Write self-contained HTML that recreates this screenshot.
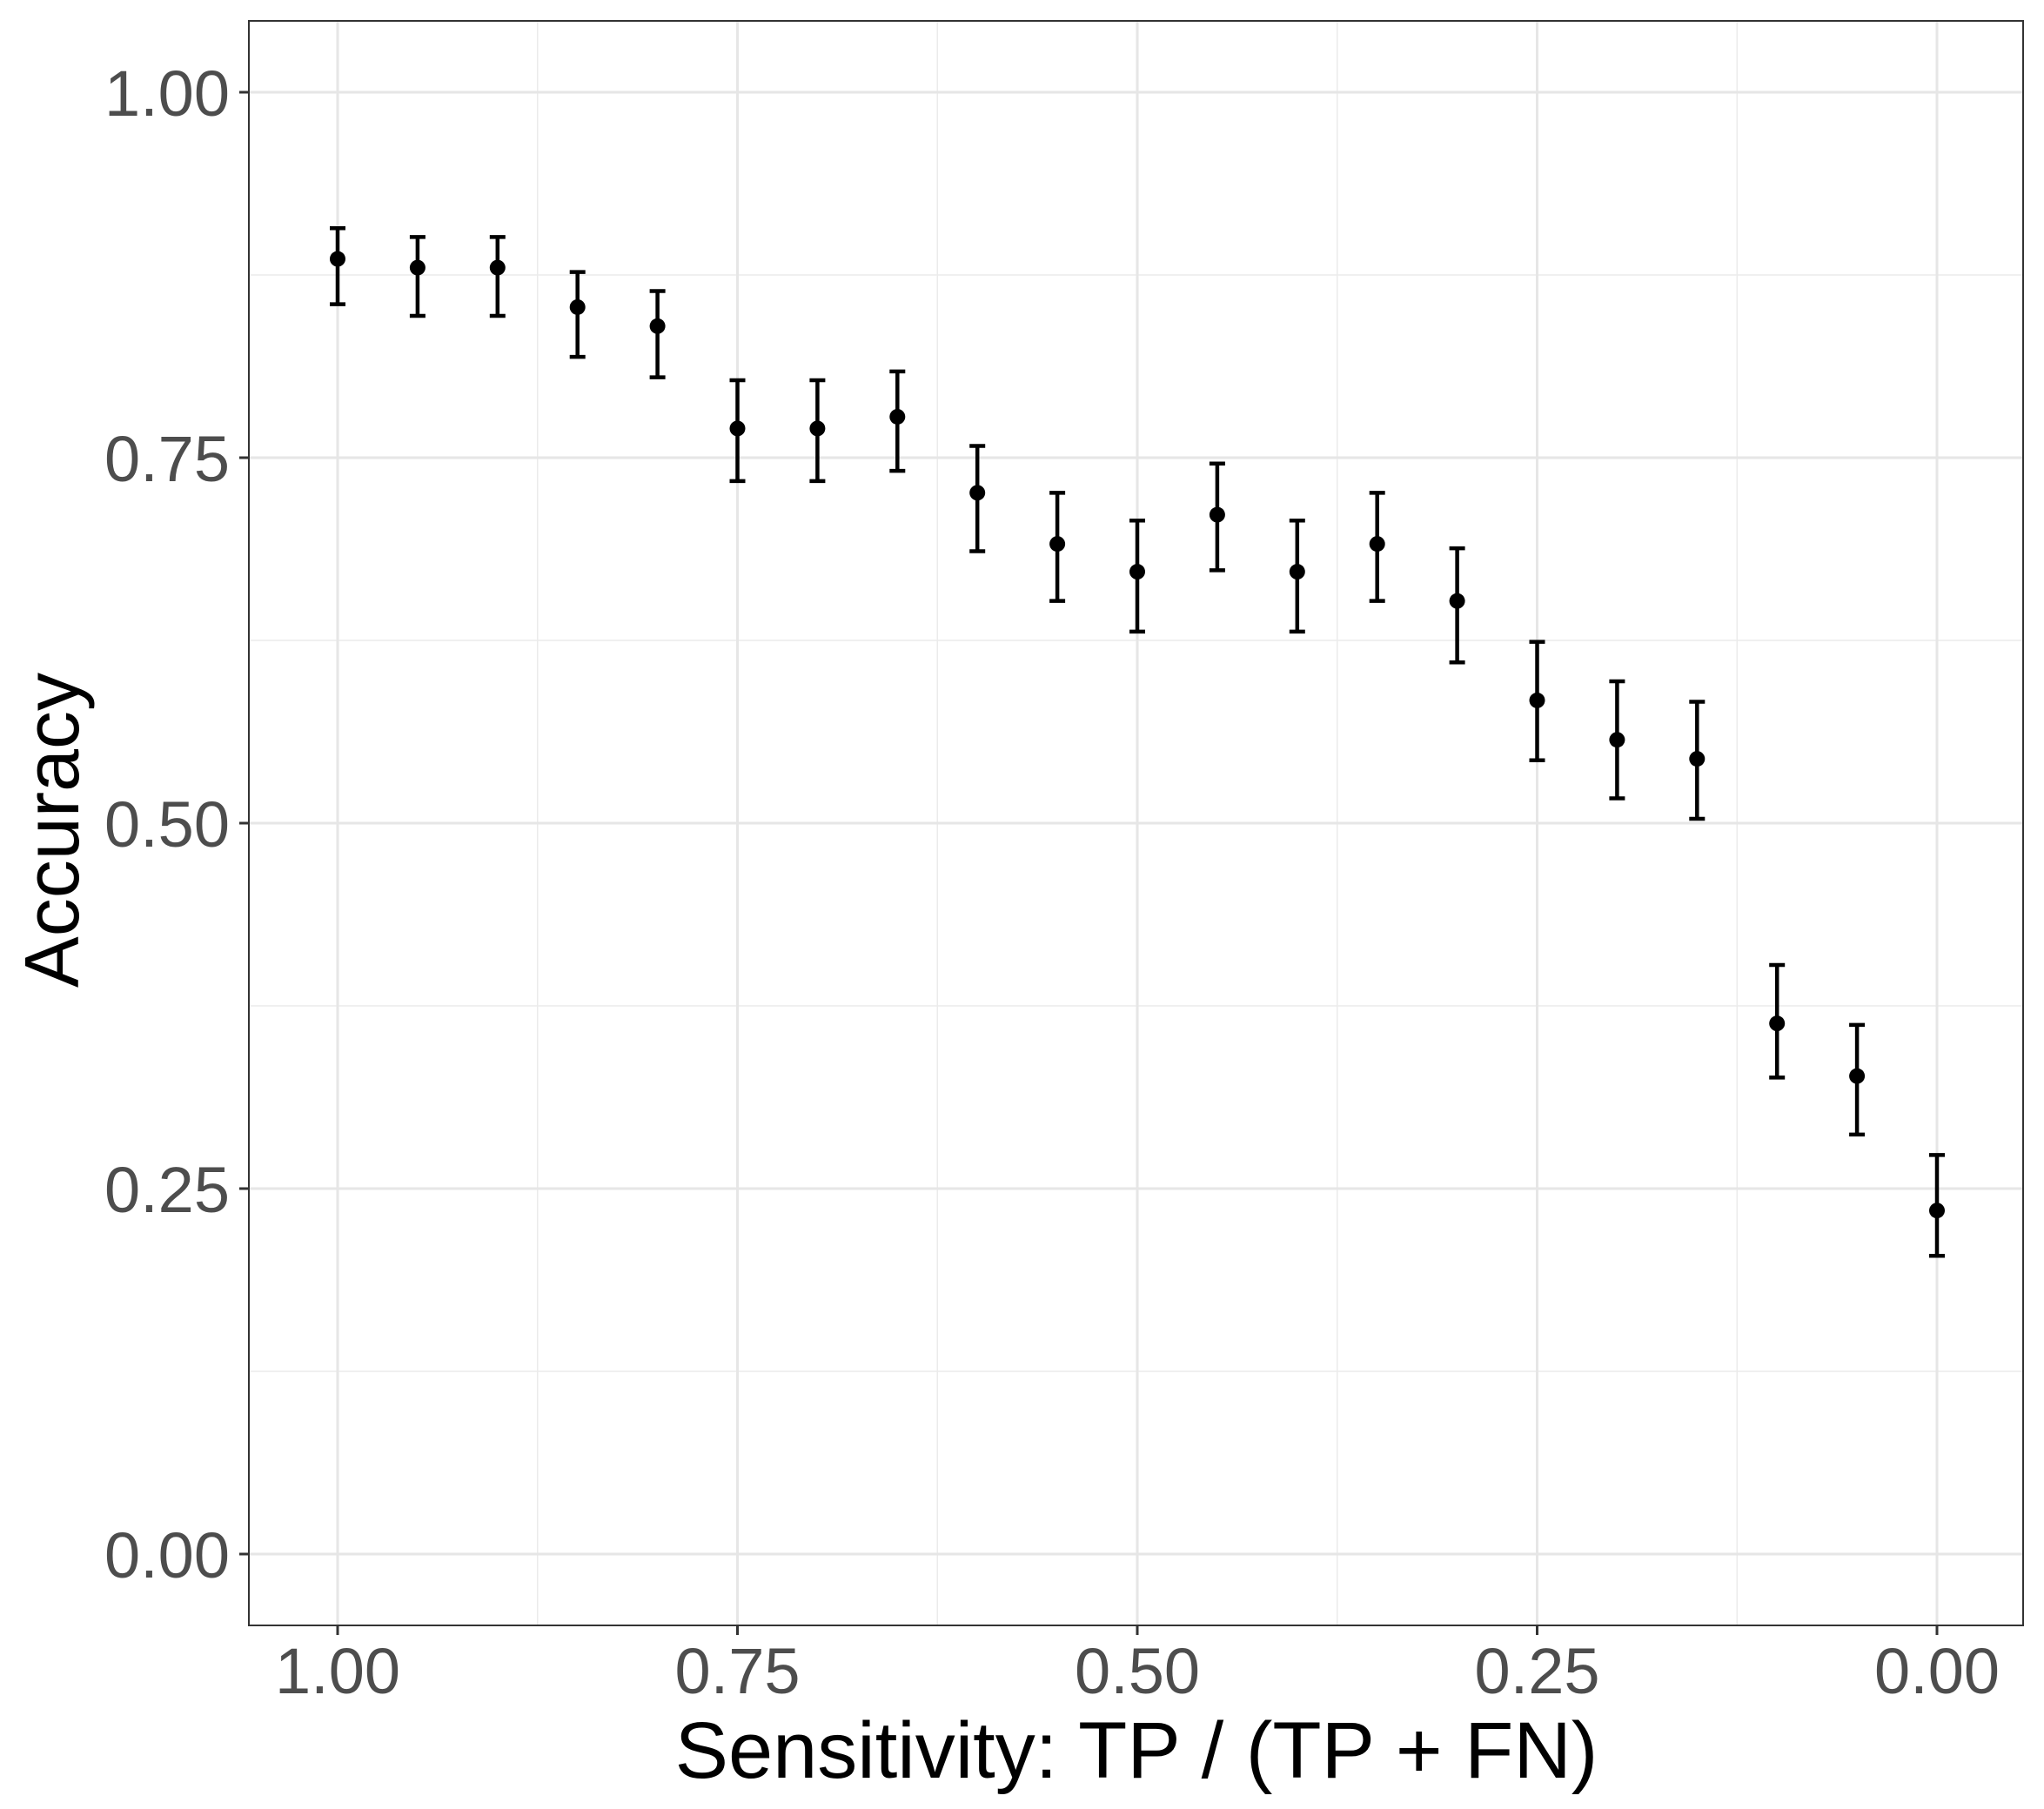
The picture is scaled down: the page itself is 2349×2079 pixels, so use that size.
<!DOCTYPE html>
<html><head><meta charset="utf-8"><style>
html,body{margin:0;padding:0;background:#fff;}
svg{display:block;font-family:"Liberation Sans",Arial,sans-serif;}
</style></head><body>
<svg id="chart" width="2349" height="2079" viewBox="0 0 2349 2079" xmlns="http://www.w3.org/2000/svg">
<rect x="0" y="0" width="2349" height="2079" fill="#fff"/>
<g id="grid"></g>
<g id="marks"></g>
<rect x="286" y="24" width="2039" height="1844" fill="none" stroke="#333" stroke-width="2"/>
<g id="axes"></g>
<text x="1306" y="2043" font-size="92" text-anchor="middle" fill="#000">Sensitivity: TP / (TP + FN)</text>
<text transform="translate(90,954) rotate(-90)" font-size="88" text-anchor="middle" fill="#000">Accuracy</text>
</svg>
<script>
const sensitivity=[1.00,0.95,0.90,0.85,0.80,0.75,0.70,0.65,0.60,0.55,0.50,0.45,0.40,0.35,0.30,0.25,0.20,0.15,0.10,0.05,0.00];
const accuracy=[0.886,0.880,0.880,0.853,0.840,0.770,0.770,0.778,0.726,0.691,0.672,0.711,0.672,0.691,0.652,0.584,0.557,0.544,0.363,0.327,0.235];
const upper=[0.907,0.901,0.901,0.877,0.864,0.803,0.803,0.809,0.758,0.726,0.707,0.746,0.707,0.726,0.688,0.624,0.597,0.583,0.403,0.362,0.273];
const lower=[0.855,0.847,0.847,0.819,0.805,0.734,0.734,0.741,0.686,0.652,0.631,0.673,0.631,0.652,0.610,0.543,0.517,0.503,0.326,0.287,0.204];
const xTicks=[1.00,0.75,0.50,0.25,0.00];
const xTickLabels=["1.00","0.75","0.50","0.25","0.00"];
const yTicks=[0,0.25,0.5,0.75,1.0];
const yTickLabels=["0.00","0.25","0.50","0.75","1.00"];
const xMinor=[0.875,0.625,0.375,0.125];
const yMinor=[0.125,0.375,0.625,0.875];

const NS="http://www.w3.org/2000/svg";
const X=v=>2226-v*1838;
const Y=v=>1786-v*1680;
const PL=286,PR=2325,PT=24,PB=1868;
function mk(tag,attrs,parent){const e=document.createElementNS(NS,tag);for(const k in attrs)e.setAttribute(k,attrs[k]);parent.appendChild(e);return e;}
const grid=document.getElementById('grid'),marks=document.getElementById('marks'),axes=document.getElementById('axes');

yMinor.forEach(v=>{const l=mk('line',{x1:PL,x2:PR,y1:Y(v),y2:Y(v),stroke:'#ebebeb','stroke-width':1.5},grid);

});
xMinor.forEach(v=>{const l=mk('line',{x1:X(v),x2:X(v),y1:PT,y2:PB,stroke:'#ebebeb','stroke-width':1.5},grid);

});
yTicks.forEach((v,i)=>{const l=mk('line',{x1:PL,x2:PR,y1:Y(v),y2:Y(v),stroke:'#e6e6e6','stroke-width':3},grid);


const t=mk('line',{x1:PL-11,x2:PL,y1:Y(v),y2:Y(v),stroke:'#333','stroke-width':3},axes);


const tx=mk('text',{x:PL-22,y:Y(v)+27,'font-size':74,'text-anchor':'end',fill:'#4d4d4d'},axes);
tx.textContent=yTickLabels[i];

});
xTicks.forEach((v,i)=>{const l=mk('line',{x1:X(v),x2:X(v),y1:PT,y2:PB,stroke:'#e6e6e6','stroke-width':3},grid);


const t=mk('line',{x1:X(v),x2:X(v),y1:PB,y2:PB+11,stroke:'#333','stroke-width':3},axes);


const tx=mk('text',{x:X(v),y:1946,'font-size':74,'text-anchor':'middle',fill:'#4d4d4d'},axes);
tx.textContent=xTickLabels[i];

});

sensitivity.forEach((s,i)=>{
const g=mk('g',{},marks);


const x=X(s);
mk('line',{x1:x,x2:x,y1:Y(upper[i]),y2:Y(lower[i]),stroke:'#000','stroke-width':4.5},g);
mk('line',{x1:x-9,x2:x+9,y1:Y(upper[i]),y2:Y(upper[i]),stroke:'#000','stroke-width':4.5},g);
mk('line',{x1:x-9,x2:x+9,y1:Y(lower[i]),y2:Y(lower[i]),stroke:'#000','stroke-width':4.5},g);
mk('circle',{cx:x,cy:Y(accuracy[i]),r:9,fill:'#000'},g);
});
</script>
</body></html>
